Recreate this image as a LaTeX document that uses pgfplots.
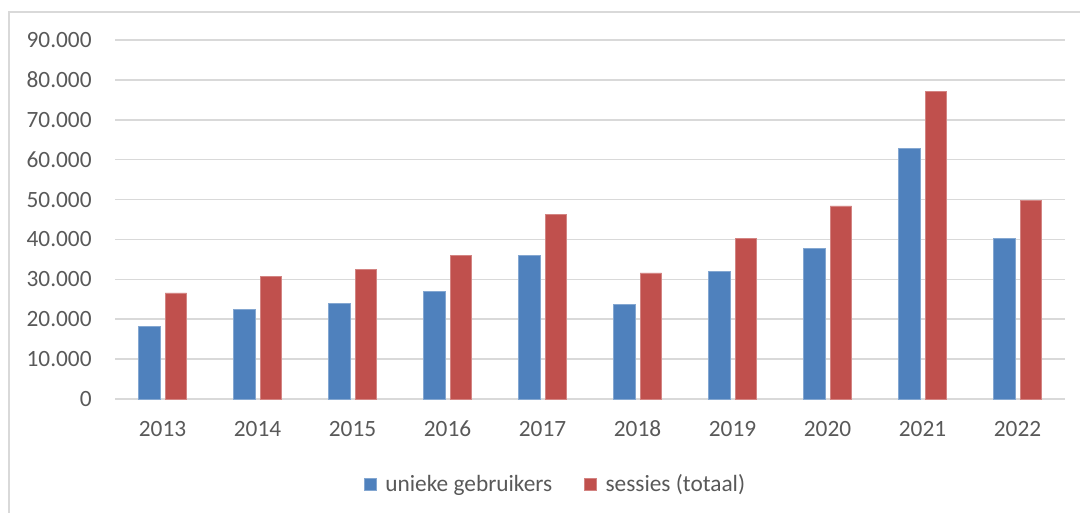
\documentclass[border=0pt]{standalone}
\usepackage{pgfplots}
\pgfplotsset{compat=1.18}
\usepackage{fontspec}
\setmainfont{Carlito}
\definecolor{xblue}{HTML}{4F81BD}
\definecolor{xred}{HTML}{C0504D}
\definecolor{xgrid}{HTML}{D9D9D9}
\definecolor{xtext}{HTML}{595959}
\begin{document}
\begin{tikzpicture}
\path[use as bounding box] (0pt,0pt) rectangle (810pt,384.75pt);
\draw[xgrid, line width=1.5pt] (6.75pt,-10pt) -- (6.75pt,375.75pt) -- (820pt,375.75pt);
\begin{axis}[
  at={(86.25pt,85.5pt)}, anchor=south west,
  scale only axis, width=712.5pt, height=269.25pt,
  xmin=-0.5, xmax=9.5, ymin=0, ymax=90000,
  xtick={0,...,9},
  xticklabels={2013,2014,2015,2016,2017,2018,2019,2020,2021,2022},
  ytick={0,10000,...,90000},
  scaled y ticks=false,
  yticklabels={0,{10.000},{20.000},{30.000},{40.000},{50.000},{60.000},{70.000},{80.000},{90.000}},
  axis line style={draw=none},
  major tick length=0pt,
  ymajorgrids, grid style={xgrid, line width=1.1pt},
  tick label style={font=\fontsize{17.5}{21}\selectfont, text=xtext},
  xticklabel style={yshift=-13pt},
  yticklabel style={xshift=-14pt},
  ybar, bar width=0.226,
  clip=false,
  legend style={at={(0.262,-0.237)}, anchor=west, draw=none, fill=none,
    legend columns=2, font=\fontsize{17.5}{21}\selectfont, text=xtext,
    inner sep=0pt,
    /tikz/every odd column/.append style={column sep=4.5pt},
    /tikz/every even column/.append style={column sep=22pt}},
  legend image code/.code={\fill[#1] (0pt,-4.5pt) rectangle (9pt,4.5pt);},
]
\draw[xgrid, line width=1.1pt] (axis cs:-0.5,0) -- (axis cs:9.5,0);
\addplot[fill=xblue, draw=xblue!70!white, line width=0.4pt, bar shift=-0.14] coordinates {
(0,18200) (1,22400) (2,24000) (3,27000) (4,36000) (5,23800) (6,31900) (7,37700) (8,62900) (9,40300)};
\addplot[fill=xred, draw=xred!70!white, line width=0.4pt, bar shift=0.14] coordinates {
(0,26600) (1,30800) (2,32500) (3,36000) (4,46300) (5,31600) (6,40300) (7,48400) (8,77100) (9,49700)};
\legend{unieke gebruikers, sessies (totaal)}
\end{axis}
\end{tikzpicture}
\end{document}
